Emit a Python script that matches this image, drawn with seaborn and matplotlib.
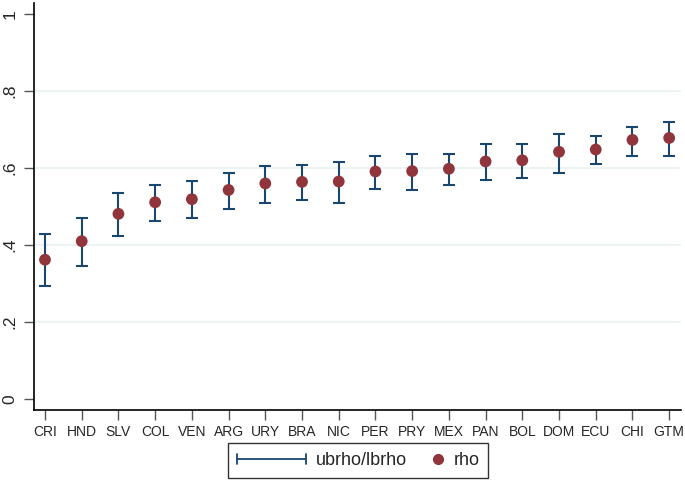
import numpy as np
import pandas as pd
import seaborn as sns
import matplotlib.pyplot as plt
from matplotlib.legend_handler import HandlerBase
from matplotlib.lines import Line2D

countries = ["CRI", "HND", "SLV", "COL", "VEN", "ARG", "URY", "BRA", "NIC",
             "PER", "PRY", "MEX", "PAN", "BOL", "DOM", "ECU", "CHI", "GTM"]
rho = [0.362, 0.410, 0.481, 0.511, 0.519, 0.543, 0.560, 0.564, 0.565,
       0.591, 0.592, 0.598, 0.617, 0.620, 0.642, 0.648, 0.673, 0.678]
ubrho = [0.429, 0.470, 0.534, 0.557, 0.565, 0.588, 0.604, 0.608, 0.615,
         0.632, 0.637, 0.636, 0.663, 0.662, 0.689, 0.684, 0.707, 0.719]
lbrho = [0.294, 0.345, 0.424, 0.462, 0.471, 0.494, 0.510, 0.518, 0.510,
         0.546, 0.543, 0.556, 0.568, 0.575, 0.588, 0.610, 0.632, 0.632]
yticks = [0, 0.2, 0.4, 0.6, 0.8, 1]
ytick_labels = ["0", ".2", ".4", ".6", ".8", "1"]

NAVY = "#1a476f"
MAROON = "#90353b"


class CapLineHandler(HandlerBase):
    # horizontal rcap symbol for the legend
    def create_artists(self, legend, orig_handle, xdescent, ydescent,
                       width, height, fontsize, trans):
        y = height / 2 - ydescent
        cap = height * 0.4
        x0, x1 = -xdescent, width - xdescent
        arts = [Line2D([x0, x1], [y, y], color=NAVY, lw=1.3),
                Line2D([x0, x0], [y - cap, y + cap], color=NAVY, lw=1.3),
                Line2D([x1, x1], [y - cap, y + cap], color=NAVY, lw=1.3)]
        for a in arts:
            a.set_transform(trans)
        return arts


class RightDotHandler(HandlerBase):
    # marker sitting at the right end of the handle box
    def create_artists(self, legend, orig_handle, xdescent, ydescent,
                       width, height, fontsize, trans):
        y = height / 2 - ydescent
        dot = Line2D([width - xdescent - 4], [y], color=MAROON, marker="o",
                     linestyle="none", markersize=7)
        dot.set_transform(trans)
        return [dot]


def main():
    df = pd.DataFrame({"country": countries, "rho": rho,
                       "ubrho": ubrho, "lbrho": lbrho})

    sns.set_style("white")
    plt.rcParams["font.family"] = ["Liberation Sans", "DejaVu Sans"]

    fig = plt.figure(figsize=(6.85, 4.82), dpi=100)
    ax = fig.add_axes([0.0496, 0.149, 0.945, 0.845])

    pos = np.arange(len(df))
    yerr = [df["rho"] - df["lbrho"], df["ubrho"] - df["rho"]]
    ax.errorbar(pos, df["rho"], yerr=yerr, fmt="none", ecolor=NAVY,
                elinewidth=1.5, capsize=4.5, capthick=1.5, zorder=2)
    sns.scatterplot(data=df, x="country", y="rho", color=MAROON, s=72,
                    edgecolor="none", ax=ax, zorder=3, legend=False)

    ax.set_xlim(-0.3, 17.33)
    ax.set_ylim(-0.0286, 1.0286)
    ax.set_yticks(yticks)
    ax.set_yticklabels(ytick_labels, rotation=90, va="center", fontsize=12.5)
    ax.set_xticks(pos)
    ax.set_xticklabels(countries, fontsize=10)
    ax.set_xlabel("")
    ax.set_ylabel("")
    for v in yticks[1:-1]:
        ax.axhline(v, color="#eaf2f3", lw=1.3, zorder=0)

    sns.despine(ax=ax, top=True, right=True)
    for s in ("left", "bottom"):
        ax.spines[s].set_color("black")
        ax.spines[s].set_linewidth(1.2)
    ax.tick_params(axis="both", direction="out", length=7, width=1,
                   color="#555555", bottom=True, left=True)
    ax.tick_params(axis="x", pad=4)
    ax.tick_params(axis="y", pad=5)

    bar_handle = Line2D([], [], color=NAVY)
    dot_handle = Line2D([], [], color=MAROON, marker="o", linestyle="none")
    leg = fig.legend([bar_handle, dot_handle], ["ubrho/lbrho", "rho"],
                     handler_map={bar_handle: CapLineHandler(),
                                  dot_handle: RightDotHandler()},
                     loc="lower center", bbox_to_anchor=(0.5226, 0.008), ncol=2,
                     frameon=True, fancybox=False, fontsize=13,
                     handlelength=3.85, handletextpad=0.55, columnspacing=-1.85,
                     borderpad=0.5, borderaxespad=0, edgecolor="black")
    leg.get_frame().set_linewidth(1.0)

    fig.savefig("out.png", dpi=100, facecolor="white")


if __name__ == "__main__":
    main()
